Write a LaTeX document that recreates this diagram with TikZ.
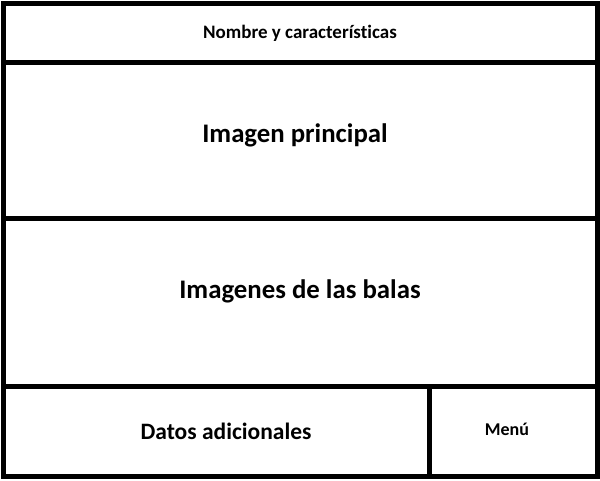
\documentclass[tikz,border=0pt]{standalone}
\usepackage{fontspec}
\setmainfont{Carlito}[Ligatures=NoCommon]
\begin{document}
\begin{tikzpicture}[x=1pt,y=-1pt,
  frame/.style={line width=5pt},
  lbl/.style={inner sep=0pt, anchor=center}]
\useasboundingbox (0,0) rectangle (600,480);
\draw[frame] (3.5,3.5) rectangle (597.5,476.5);
\coordinate (l1) at (3.5,62.5); \coordinate (r1) at (597.5,62.5);
\coordinate (l2) at (3.5,218); \coordinate (r2) at (597.5,218);
\coordinate (l3) at (3.5,386); \coordinate (r3) at (597.5,386);
\coordinate (v1) at (429.5,386); \coordinate (v2) at (429.5,476.5);
\draw[frame] (l1) -- (r1);
\draw[frame] (l2) -- (r2);
\draw[frame] (l3) -- (r3);
\draw[frame] (v1) -- (v2);
\node[lbl, font=\fontsize{19}{22}\selectfont\bfseries] (nombre) at (300,33) {Nombre y características};
\node[lbl, font=\fontsize{26.8}{30}\selectfont\bfseries] (principal) at (295,135) {Imagen principal};
\node[lbl, font=\fontsize{26.8}{30}\selectfont\bfseries] (balas) at (300,291) {Imagenes de las balas};
\node[lbl, font=\fontsize{23.5}{27}\selectfont\bfseries] (datos) at (226,431) {Datos adicionales};
\node[lbl, font=\fontsize{18}{21}\selectfont\bfseries] (menu) at (507,429) {Menú};
\end{tikzpicture}
\end{document}
